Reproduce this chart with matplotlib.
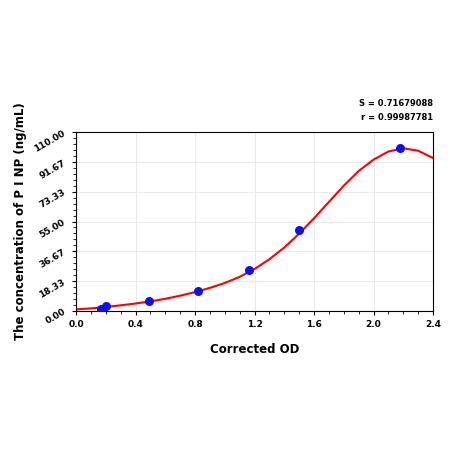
import matplotlib
matplotlib.use("Agg")
import matplotlib.pyplot as plt
import numpy as np

pt_x = [0.17, 0.20, 0.49, 0.82, 1.16, 1.50, 2.18]
pt_y = [1.5, 2.8, 5.9, 12.5, 25.0, 50.0, 100.0]
curve_x = [0.0,0.1,0.2,0.3,0.4,0.5,0.6,0.7,0.8,0.9,1.0,1.1,1.2,1.3,1.4,1.5,1.6,1.7,1.8,1.9,2.0,2.1,2.2,2.3,2.4]
curve_y = [1.0,1.6,2.5,3.5,4.6,5.9,7.5,9.4,11.6,14.2,17.2,21.0,25.8,31.8,39.0,47.5,57.0,67.0,77.0,86.0,93.0,98.0,100.0,98.5,94.0]
yticks = [0.00, 18.33, 36.67, 55.00, 73.33, 91.67, 110.00]
xticks = [0.0, 0.4, 0.8, 1.2, 1.6, 2.0, 2.4]

fig = plt.figure(figsize=(4.5, 4.5), dpi=100)
ax = fig.add_axes([76/450, 1-311/450, 357/450, 179/450])
ax.plot(curve_x, curve_y, color='red', lw=1.5, zorder=2, solid_joinstyle='round')
ax.scatter(pt_x, pt_y, s=30, color='#1010ee', zorder=3)
ax.set_xlim(0, 2.4); ax.set_ylim(0, 110)
ax.set_xticks(xticks); ax.set_yticks(yticks)
ax.set_xticklabels([f"{v:.1f}" for v in xticks], fontsize=6.5, fontweight='bold')
ax.set_yticklabels([f"{v:.2f}" for v in yticks], fontsize=6.5, fontweight='bold', rotation=30)
ax.set_xticks(np.arange(0, 2.41, 0.1), minor=True)
ax.set_yticks(np.arange(0, 110.1, 110/30), minor=True)
ax.tick_params(which='minor', length=2)
ax.tick_params(which='major', length=3)
ax.grid(True, color='#e6e6e6', lw=0.6)
ax.set_axisbelow(True)
ax.set_xlabel("Corrected OD", fontsize=8.5, fontweight='bold', labelpad=10)
ax.set_ylabel("The concentration of P \u2160 NP (ng/mL)", fontsize=8.5, fontweight='bold')
fig.text(433/450, 1-104/450, "S = 0.71679088", ha='right', va='center', fontsize=6, fontweight='bold')
fig.text(433/450, 1-117/450, "r = 0.99987781", ha='right', va='center', fontsize=6, fontweight='bold')
fig.savefig("out.png", dpi=100)
